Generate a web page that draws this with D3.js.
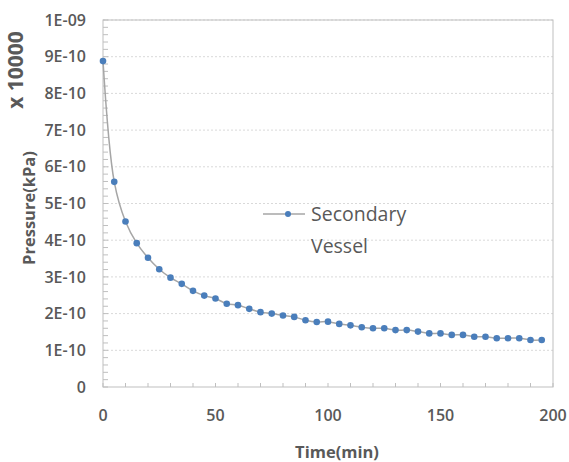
<!DOCTYPE html>
<html>
<head>
<meta charset="utf-8">
<script src="https://cdn.jsdelivr.net/npm/d3@7.9.0/dist/d3.min.js"></script>
<style>
  body { margin: 0; background: #fff; }
  svg text { font-family: "Open Sans", "Noto Sans", sans-serif; fill: #595959; }
</style>
</head>
<body>
<svg width="569" height="462"></svg>
<script>
// time in minutes, pressure values
const times = d3.range(0, 200, 5);
const pressure = [
  8.88e-10, 5.59e-10, 4.51e-10, 3.92e-10, 3.52e-10, 3.21e-10, 2.98e-10, 2.81e-10,
  2.62e-10, 2.49e-10, 2.41e-10, 2.27e-10, 2.23e-10, 2.13e-10, 2.04e-10, 2.00e-10,
  1.95e-10, 1.91e-10, 1.82e-10, 1.77e-10, 1.78e-10, 1.72e-10, 1.68e-10, 1.63e-10,
  1.60e-10, 1.60e-10, 1.55e-10, 1.55e-10, 1.51e-10, 1.46e-10, 1.46e-10, 1.42e-10,
  1.42e-10, 1.37e-10, 1.37e-10, 1.33e-10, 1.33e-10, 1.33e-10, 1.28e-10, 1.28e-10
];
const xTicks = [0, 50, 100, 150, 200];
const yTicks = [0, 1e-10, 2e-10, 3e-10, 4e-10, 5e-10, 6e-10, 7e-10, 8e-10, 9e-10, 1e-9];
const yTickLabels = ["0", "1E-10", "2E-10", "3E-10", "4E-10", "5E-10", "6E-10", "7E-10", "8E-10", "9E-10", "1E-09"];
const seriesName = ["Secondary", "Vessel"];

const data = times.map((t, i) => ({ t, p: pressure[i] }));

const svg = d3.select('svg');
const m = { left: 103, right: 553, top: 20, bottom: 387 };

const x = d3.scaleLinear().domain([0, 200]).range([m.left, m.right]);
const y = d3.scaleLinear().domain([0, 1e-9]).range([m.bottom, m.top]);

// gridlines
svg.append('g')
  .selectAll('line')
  .data(yTicks.slice(1))
  .join('line')
  .attr('x1', m.left).attr('x2', m.right)
  .attr('y1', d => y(d)).attr('y2', d => y(d))
  .attr('stroke', '#d9d9d9')
  .attr('stroke-dasharray', '2,2');

// frame
svg.append('rect')
  .attr('x', m.left).attr('y', m.top)
  .attr('width', m.right - m.left).attr('height', m.bottom - m.top)
  .attr('fill', 'none')
  .attr('stroke', '#bfbfbf');

// minor ticks, inside
svg.append('g')
  .selectAll('line')
  .data(d3.range(0, 201, 10))
  .join('line')
  .attr('x1', d => x(d)).attr('x2', d => x(d))
  .attr('y1', m.bottom).attr('y2', m.bottom - 4)
  .attr('stroke', '#bfbfbf');

svg.append('g')
  .selectAll('line')
  .data(d3.range(0, 51).map(i => i * 0.2e-10))
  .join('line')
  .attr('x1', m.left).attr('x2', m.left + 5)
  .attr('y1', d => y(d)).attr('y2', d => y(d))
  .attr('stroke', '#bfbfbf');

// tick labels
svg.append('g')
  .selectAll('text')
  .data(yTicks)
  .join('text')
  .attr('x', 86)
  .attr('y', d => y(d))
  .attr('dy', '0.35em')
  .attr('text-anchor', 'end')
  .attr('font-size', 16)
  .attr('font-weight', 600)
  .text((d, i) => yTickLabels[i]);

svg.append('g')
  .selectAll('text')
  .data(xTicks)
  .join('text')
  .attr('x', d => x(d))
  .attr('y', 421)
  .attr('text-anchor', 'middle')
  .attr('font-size', 16)
  .attr('font-weight', 600)
  .text(d => d);

// axis titles
svg.append('text')
  .attr('x', 337).attr('y', 458)
  .attr('text-anchor', 'middle')
  .attr('font-size', 16.5)
  .attr('font-weight', 700)
  .text('Time(min)');

svg.append('text')
  .attr('transform', 'translate(35,208) rotate(-90)')
  .attr('text-anchor', 'middle')
  .attr('font-size', 16.5)
  .attr('font-weight', 700)
  .text('Pressure(kPa)');

svg.append('text')
  .attr('transform', 'translate(23,70) rotate(-90)')
  .attr('text-anchor', 'middle')
  .attr('font-size', 21)
  .attr('font-weight', 700)
  .text('x 10000');

// series
const line = d3.line()
  .x(d => x(d.t))
  .y(d => y(d.p))
  .curve(d3.curveCatmullRom);

svg.append('path')
  .datum(data)
  .attr('d', line)
  .attr('fill', 'none')
  .attr('stroke', '#a6a6a6')
  .attr('stroke-width', 1.5);

svg.append('g')
  .selectAll('circle')
  .data(data)
  .join('circle')
  .attr('cx', d => x(d.t))
  .attr('cy', d => y(d.p))
  .attr('r', 3.3)
  .attr('fill', '#4a7ebb');

// legend
const lg = svg.append('g');
lg.append('line')
  .attr('x1', 263).attr('x2', 305)
  .attr('y1', 214).attr('y2', 214)
  .attr('stroke', '#a6a6a6')
  .attr('stroke-width', 1.5);
lg.append('circle')
  .attr('cx', 288).attr('cy', 214).attr('r', 3)
  .attr('fill', '#4a7ebb');
lg.selectAll('text')
  .data(seriesName)
  .join('text')
  .attr('x', 311)
  .attr('y', (d, i) => 221 + i * 32)
  .attr('font-size', 19.5)
  .attr('font-weight', 500)
  .text(d => d);
</script>
</body>
</html>
